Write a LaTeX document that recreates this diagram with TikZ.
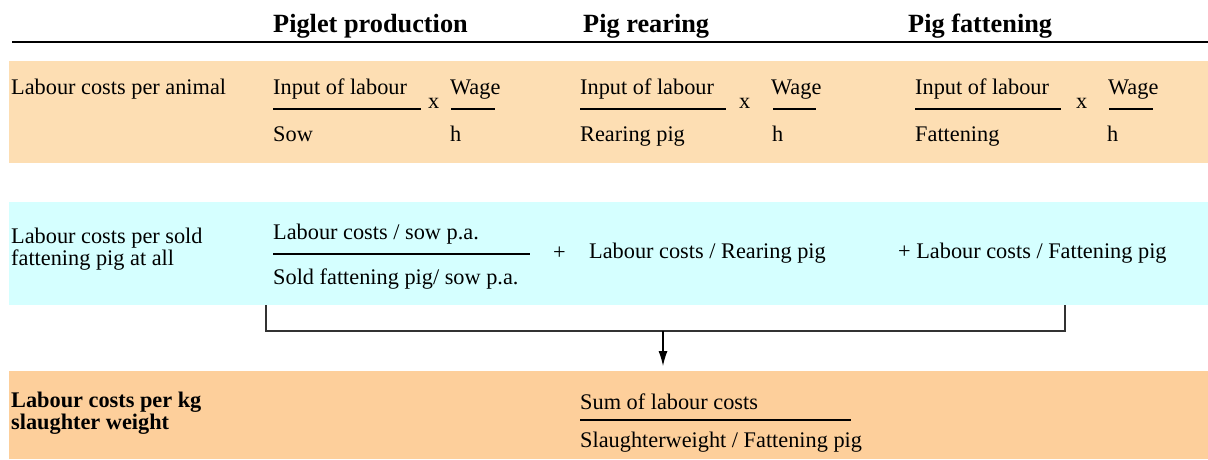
\documentclass[tikz,border=0pt]{standalone}
\usepackage{fontspec}
\setmainfont{Liberation Serif}
\newfontfamily\tms{Liberation Serif}
\usetikzlibrary{arrows.meta}
\definecolor{peachA}{RGB}{253,222,179}
\definecolor{cyanB}{RGB}{213,255,255}
\definecolor{peachC}{RGB}{253,207,155}
\definecolor{brk}{RGB}{50,50,50}
\tikzset{
  txt/.style={inner sep=0pt, anchor=base west, font=\tms\fontsize{22.3}{22.5}\selectfont},
  btxt/.style={inner sep=0pt, anchor=base west, font=\tms\fontsize{22.3}{22.5}\selectfont\bfseries},
  head/.style={inner sep=0pt, anchor=base west, font=\tms\fontsize{26.3}{28}\selectfont\bfseries},
  band/.style={inner sep=0pt, outer sep=0pt, anchor=north west, minimum width=1199pt},
  fbar/.style={line width=2pt},
  bracket/.style={draw=brk, line width=1.5pt},
  arr/.style={line width=1.2pt, -{Latex[length=15pt,width=9pt]}}
}
\begin{document}
\begin{tikzpicture}[x=1pt,y=-1pt]
\useasboundingbox (0,0) rectangle (1208,459);
% bands
\node[band, fill=peachA, minimum height=102pt] (b1) at (9,61) {};
\node[band, fill=cyanB, minimum height=103pt] (b2) at (9,202) {};
\node[band, fill=peachC, minimum height=88pt] (b3) at (9,371) {};
% headings
\node[head] (h1) at (273,32) {Piglet production};
\node[head] (h2) at (583,32) {Pig rearing};
\node[head] (h3) at (908,32) {Pig fattening};
\draw[line width=2.5pt] (12,42) -- (1208,42);
% row 1
\node[txt] (l1) at (11,94) {Labour costs per animal};
\node[txt] (a1n) at (273,94) {Input of labour};
\node[txt] (a1d) at (273,141) {Sow};
\draw[fbar] (273,109) -- (421,109);
\node[txt] (a1x) at (428,108) {x};
\node[txt] (a1w) at (450,94) {Wage};
\node[txt] (a1h) at (450,141) {h};
\draw[fbar] (451,109) -- (495,109);
\node[txt] (a2n) at (580,94) {Input of labour};
\node[txt] (a2d) at (580,141) {Rearing pig};
\draw[fbar] (580,109) -- (726,109);
\node[txt] (a2x) at (739,108) {x};
\node[txt] (a2w) at (771,94) {Wage};
\node[txt] (a2h) at (772,141) {h};
\draw[fbar] (773,109) -- (816,109);
\node[txt] (a3n) at (915,94) {Input of labour};
\node[txt] (a3d) at (915,141) {Fattening};
\draw[fbar] (915,109) -- (1061,109);
\node[txt] (a3x) at (1076,108) {x};
\node[txt] (a3w) at (1108,94) {Wage};
\node[txt] (a3h) at (1107,141) {h};
\draw[fbar] (1109,109) -- (1153,109);
% row 2
\node[txt] (l2) at (11,243) {\begin{tabular}[t]{@{}l@{}}Labour costs per sold\\fattening pig at all\end{tabular}};
\node[txt] (c1n) at (273,239) {Labour costs / sow p.a.};
\node[txt] (c1d) at (273,284) {Sold fattening pig/ sow p.a.};
\draw[fbar] (273,254) -- (530,254);
\node[txt] (p1) at (553,259) {+};
\node[txt] (c2) at (589,258) {Labour costs / Rearing pig};
\node[txt] (c3) at (898,258) {+ Labour costs / Fattening pig};
% bracket and arrow
\coordinate (kl) at (266,305);
\coordinate (kr) at (1065,305);
\coordinate (km) at (663,331);
\draw[bracket] (kl) |- (km) -| (kr);
\draw[arr] (km) -- ([yshift=5pt]km |- b3.north);
% row 3
\node[btxt] (l3) at (11,407) {\begin{tabular}[t]{@{}l@{}}Labour costs per kg\\slaughter weight\end{tabular}};
\node[txt] (s1n) at (580,409) {Sum of labour costs};
\node[txt] (s1d) at (580,447) {Slaughterweight / Fattening pig};
\draw[fbar] (580,420) -- (851,420);
\end{tikzpicture}
\end{document}
